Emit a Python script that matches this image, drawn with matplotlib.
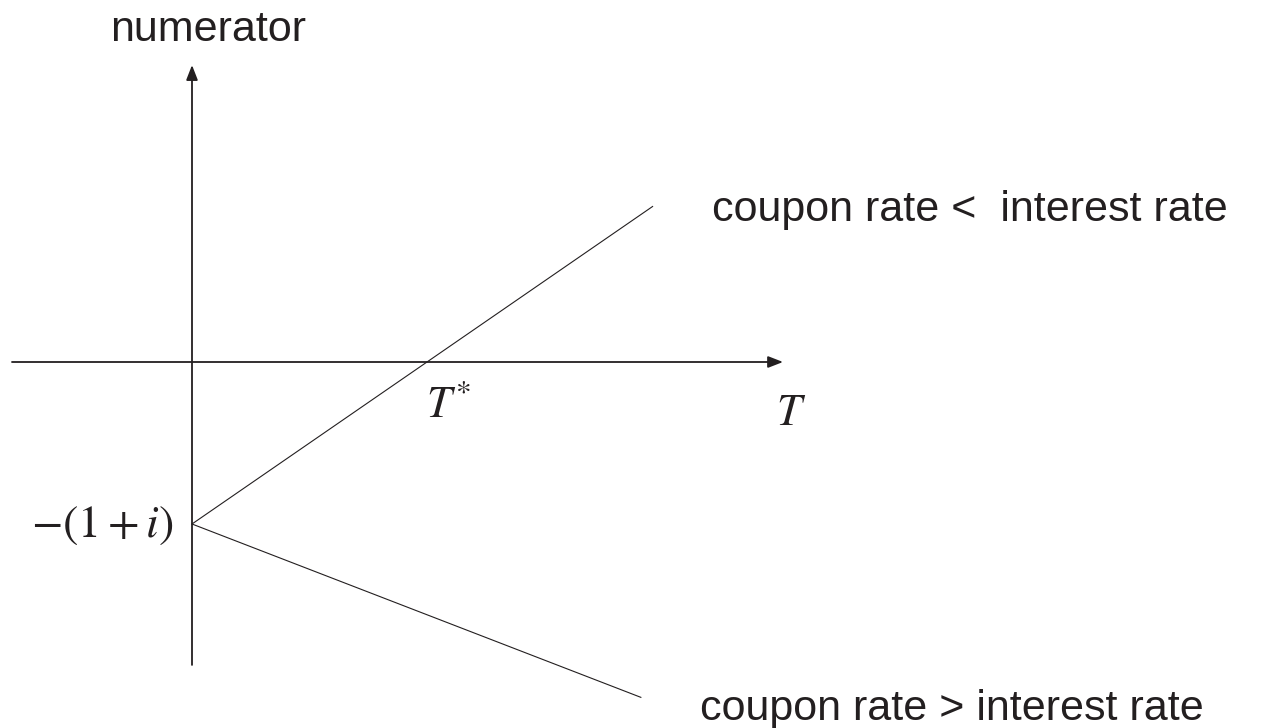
import matplotlib
matplotlib.use("Agg")
import matplotlib.pyplot as plt

# ---- data (abstract units: T* = 1, intercept = -(1+i) = -1) ----
T_up = [0.0, 1.96]
num_up = [-1.0, 0.96]          # coupon rate < interest rate
T_down = [0.0, 1.91]
num_down = [-1.0, -2.07]       # coupon rate > interest rate
t_star = 1.0
intercept = -1.0
x_axis_range = [-0.766, 2.515]
y_axis_range = [-1.87, 1.833]
label_up = "coupon rate <  interest rate"
label_down = "coupon rate > interest rate"
y_label = "numerator"

INK = "#231f20"
plt.rcParams['mathtext.fontset'] = 'stix'
SANS = 'Liberation Sans'

fig = plt.figure(figsize=(12.8, 7.28), dpi=100)
ax = fig.add_axes([0, 0, 1, 1])
ax.set_xlim(-192 / 235, (1280 - 192) / 235)
ax.set_ylim((362 - 728) / 162, 362 / 162)
ax.axis('off')

# axes with arrows
ax.annotate('', xy=(x_axis_range[1], 0), xytext=(x_axis_range[0], 0),
            arrowprops=dict(arrowstyle='-|>,head_length=0.9,head_width=0.35',
                            color=INK, lw=1.3, shrinkA=0, shrinkB=0))
ax.annotate('', xy=(0, y_axis_range[1]), xytext=(0, y_axis_range[0]),
            arrowprops=dict(arrowstyle='-|>,head_length=0.9,head_width=0.35',
                            color=INK, lw=1.3, shrinkA=0, shrinkB=0))

ax.plot(T_up, num_up, color=INK, lw=0.8)
ax.plot(T_down, num_down, color=INK, lw=0.8)

# labels
ax.text(-0.349, 1.981, y_label, family=SANS, fontsize=31,
        ha='left', va='baseline', color=INK)
ax.text(t_star + 0.093, -0.265, r'$T^{*}$', fontsize=32, ha='center', va='center', color=INK)
ax.text(2.55, -0.31, r'$T$', fontsize=32, ha='center', va='center', color=INK)
ax.text(-0.081, intercept, r'$-(1+i)$', fontsize=33, ha='right', va='center', color=INK)
ax.text(2.213, 0.870, label_up, family=SANS, fontsize=31, ha='left', va='baseline', color=INK)
ax.text(2.162, -2.210, label_down, family=SANS, fontsize=31, ha='left', va='baseline', color=INK)

fig.savefig('out.png', dpi=100)
